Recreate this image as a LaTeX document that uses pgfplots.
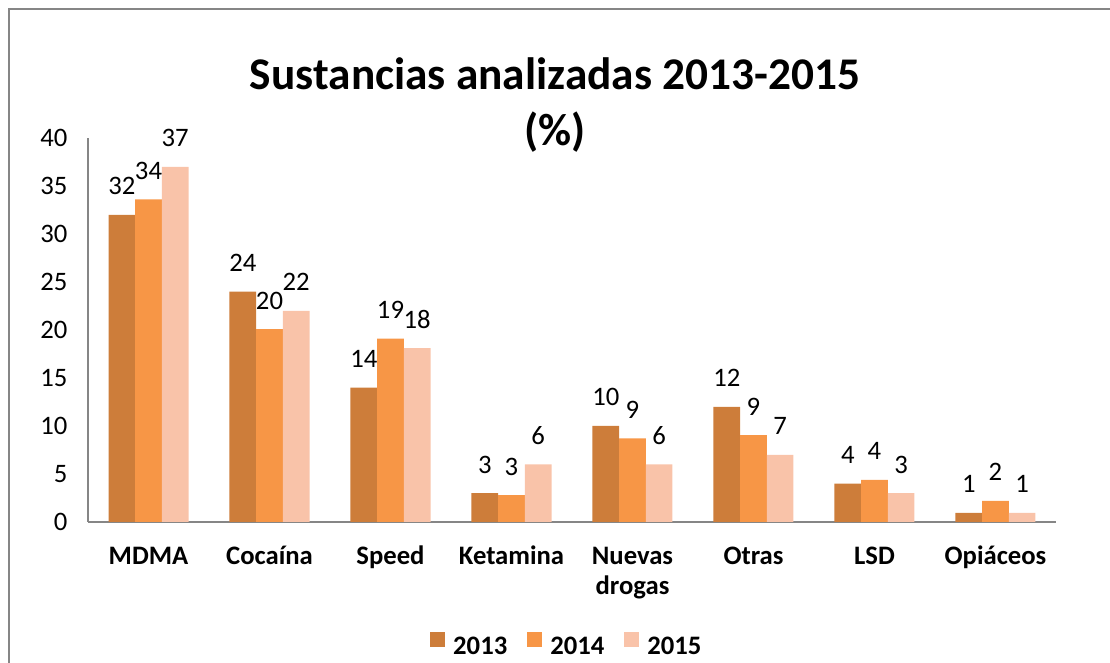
\documentclass[border=0pt]{standalone}
\usepackage{fontspec}
\setmainfont{Carlito}
\usepackage{pgfplots}
\pgfplotsset{compat=1.18}
\definecolor{c13}{RGB}{205,125,58}
\definecolor{c14}{RGB}{247,150,70}
\definecolor{c15}{RGB}{249,195,169}
\definecolor{axgray}{RGB}{134,134,134}
\newcommand{\lab}{\fontsize{20pt}{22.5pt}\selectfont}
\newcommand{\ttl}{\fontsize{34pt}{40pt}\selectfont\bfseries}
\begin{document}
\begin{tikzpicture}
\useasboundingbox (0,0) rectangle (832.5pt,497.25pt);
\draw[axgray, line width=0.9pt] (6.75pt,-5pt) -- (6.75pt,490.5pt) -- (840pt,490.5pt);
\node[font=\ttl, anchor=base, inner sep=0pt] at (416.25pt,429.75pt) {Sustancias analizadas 2013-2015};
\node[font=\ttl, anchor=base, inner sep=0pt] at (416.25pt,387.75pt) {(\%)};
\begin{axis}[
  at={(66pt,105.75pt)}, anchor=south west,
  scale only axis, width=726pt, height=288pt,
  ybar=0pt, bar width=20pt,
  xmin=-0.5, xmax=7.5, ymin=0, ymax=40,
  xtick={0,...,7},
  xticklabels={MDMA,Cocaína,Speed,Ketamina,{\begin{tabular}[t]{@{}c@{}}Nuevas\\drogas\end{tabular}},Otras,LSD,Opiáceos},
  ytick={0,5,...,40},
  axis x line*=bottom, axis y line*=left,
  axis line style={axgray, line width=1.1pt, -},
  major tick length=0pt,
  /pgf/number format/assume math mode=true,
  yticklabel style={font=\lab, anchor=east, xshift=-12pt},
  xticklabel style={font=\lab\bfseries, anchor=base, yshift=-32.25pt},
  nodes near coords={\pgfmathprintnumber[fixed,precision=0]{\pgfplotspointmeta}},
  nodes near coords style={font=\lab, anchor=base, yshift=15pt, text=black},
  legend columns=3,
  legend style={draw=none, at={(0.4950,-0.3216)}, anchor=center, font=\lab\bfseries,
    /tikz/every odd column/.append style={column sep=4pt},
    /tikz/every even column/.append style={column sep=13pt}},
  sq/.style={legend image code/.code={\fill[##1] (0pt,-0.75pt) rectangle (11.25pt,10.5pt);}},
]
\addplot[fill=c13, draw=none, sq] coordinates {(0,32) (1,24) (2,14) (3,3) (4,10) (5,12) (6,4) (7,0.95)};
\addplot[fill=c14, draw=none, sq] coordinates {(0,33.6) (1,20.1) (2,19.1) (3,2.8) (4,8.7) (5,9.05) (6,4.4) (7,2.2)};
\addplot[fill=c15, draw=none, sq] coordinates {(0,37) (1,22) (2,18.1) (3,6) (4,6) (5,7) (6,3) (7,0.95)};
\legend{2013,2014,2015}
\end{axis}
\end{tikzpicture}
\end{document}
